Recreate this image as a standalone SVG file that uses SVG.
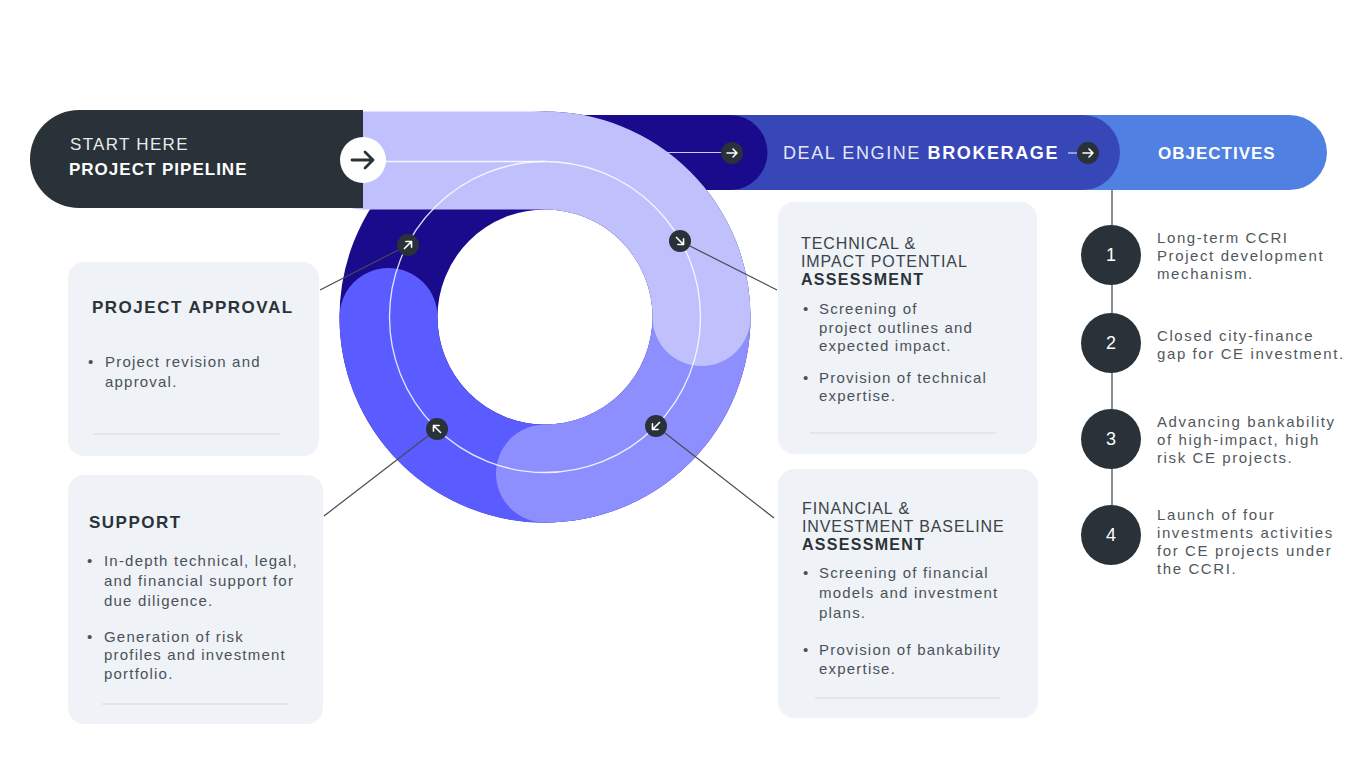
<svg xmlns="http://www.w3.org/2000/svg" xmlns:xlink="http://www.w3.org/1999/xlink" width="1355" height="769" viewBox="0 0 1355 769">
<style>
  .box { fill: #EFF2F7; }
  .div { stroke: #D5DAE1; stroke-width: 1; }
  .title { font-family: "Liberation Sans", Arial, sans-serif; font-weight: bold; font-size: 17px; letter-spacing: 1.5px; fill: #2A3338; }
  .hd { font-family: "Liberation Sans", Arial, sans-serif; font-size: 16px; letter-spacing: 0.9px; fill: #3A4348; }
  .hdb { font-weight: bold; letter-spacing: 1.3px; fill: #2A3338; }
  .body { font-family: "Liberation Sans", Arial, sans-serif; font-size: 15px; letter-spacing: 1.2px; fill: #4A5257; }
  .obj { letter-spacing: 1.6px; fill: #50585D; }
  .conn { stroke: #454B50; stroke-width: 1.2; fill: none; }
  .dot { fill: #283238; }
  .arr { stroke: #FFFFFF; stroke-width: 1.6; fill: none; stroke-linecap: round; stroke-linejoin: round; }
  .num { font-family: "Liberation Sans", Arial, sans-serif; font-size: 18px; fill: #FFFFFF; text-anchor: middle; }
</style>
<defs>
  <path id="arrow" d="M -5 0 H 5 M 1 -4 L 5 0 L 1 4"/>
</defs>
<rect width="1355" height="769" fill="#FFFFFF"/>

<!-- top bars -->
<g id="objectives-bar">
  <path d="M 1050 115 H 1289.5 A 37.5 37.5 0 0 1 1289.5 190 H 1050 Z" fill="#4F80E2"/>
  <text x="1158" y="159" font-family="Liberation Sans, Arial, sans-serif" font-weight="bold" font-size="17" letter-spacing="1" fill="#FFFFFF">OBJECTIVES</text>
</g>
<g id="deal-engine">
  <path d="M 700 115 H 1082.5 A 37.5 37.5 0 0 1 1082.5 190 H 700 Z" fill="#3847B8"/>
  <path d="M 545 152.5 H 730" stroke="#1A0A8C" stroke-width="75" stroke-linecap="round" fill="none"/>
  <text x="783" y="159" font-family="Liberation Sans, Arial, sans-serif" font-size="18" letter-spacing="1.6" fill="#E4E6F7">DEAL ENGINE <tspan font-weight="bold" fill="#FFFFFF">BROKERAGE</tspan></text>
</g>

<!-- ring -->
<g id="ring">
  <circle cx="545" cy="317" r="156.5" fill="none" stroke="#1A0A8C" stroke-width="98"/>
  <path d="M 388.5 317 A 156.5 156.5 0 0 0 655.7 427.7" fill="none" stroke="#5A5CFF" stroke-width="98" stroke-linecap="round"/>
  <path d="M 545 473.5 A 156.5 156.5 0 0 0 701.5 317" fill="none" stroke="#8E8FFF" stroke-width="98" stroke-linecap="round"/>
  <line x1="600" y1="152.5" x2="732" y2="152.5" stroke="#C9C9F5" stroke-width="1.2"/>
  <path d="M 363 160.5 H 545 A 156.5 156.5 0 0 1 701.5 317" fill="none" stroke="#C0C0FD" stroke-width="98" stroke-linecap="round"/>
</g>

<g id="start">
  <path d="M 363 110 H 79 A 49 49 0 0 0 79 208 H 363 Z" fill="#283238"/>
  <text x="70" y="150" font-family="Liberation Sans, Arial, sans-serif" font-size="17" letter-spacing="1.3" fill="#E8EAEC">START HERE</text>
  <text x="69" y="175" font-family="Liberation Sans, Arial, sans-serif" font-weight="bold" font-size="17" letter-spacing="1" fill="#FFFFFF">PROJECT PIPELINE</text>
</g>

<!-- connectors -->
<g id="connectors">
  <circle cx="545" cy="317" r="155.5" fill="none" stroke="#FFFFFF" stroke-width="1.3" opacity="0.85"/>
  <line x1="363" y1="161.5" x2="545" y2="161.5" stroke="#FFFFFF" stroke-width="1.3" opacity="0.85"/>
  <line x1="1068" y1="153" x2="1080" y2="153" stroke="#C9CCEF" stroke-width="1.3"/>
  <line class="conn" x1="320" y1="290" x2="408" y2="245"/>
  <line class="conn" x1="324" y1="516" x2="437" y2="429"/>
  <line class="conn" x1="680" y1="241" x2="777" y2="290"/>
  <line class="conn" x1="656" y1="426" x2="774" y2="518"/>
  <line x1="1112" y1="190" x2="1112" y2="535" stroke="#8A8F94" stroke-width="2"/>
  <circle cx="363" cy="160" r="23" fill="#FFFFFF"/>
  <path d="M 352 160 H 373 M 365 152 L 373 160 L 365 168" stroke="#283238" stroke-width="2.8" fill="none" stroke-linecap="round" stroke-linejoin="round"/>
  <circle class="dot" cx="732" cy="153" r="11"/>
  <use href="#arrow" class="arr" transform="translate(732 153)"/>
  <circle class="dot" cx="1088" cy="153" r="11"/>
  <use href="#arrow" class="arr" transform="translate(1088 153)"/>
  <circle class="dot" cx="408" cy="245" r="11"/>
  <use href="#arrow" class="arr" transform="translate(408 245) rotate(-45)"/>
  <circle class="dot" cx="680" cy="241" r="11"/>
  <use href="#arrow" class="arr" transform="translate(680 241) rotate(45)"/>
  <circle class="dot" cx="656" cy="426" r="11"/>
  <use href="#arrow" class="arr" transform="translate(656 426) rotate(135)"/>
  <circle class="dot" cx="437" cy="429" r="11"/>
  <use href="#arrow" class="arr" transform="translate(437 429) rotate(-135)"/>
</g>

<!-- boxes -->
<g id="project-approval">
  <rect class="box" x="68" y="262" width="251" height="194" rx="16"/>
  <text class="title" x="92" y="313">PROJECT APPROVAL</text>
  <text class="body" x="88" y="367">•</text>
  <text class="body" x="105" y="367">Project revision and</text>
  <text class="body" x="105" y="387">approval.</text>
  <line class="div" x1="93" y1="434" x2="280" y2="434"/>
</g>

<g id="support">
  <rect class="box" x="68" y="475" width="255" height="249" rx="16"/>
  <text class="title" x="89" y="528">SUPPORT</text>
  <text class="body" x="87" y="566">•</text>
  <text class="body" x="104" y="566">In-depth technical, legal,</text>
  <text class="body" x="104" y="586">and financial support for</text>
  <text class="body" x="104" y="606">due diligence.</text>
  <text class="body" x="87" y="642">•</text>
  <text class="body" x="104" y="642">Generation of risk</text>
  <text class="body" x="104" y="660">profiles and investment</text>
  <text class="body" x="104" y="679">portfolio.</text>
  <line class="div" x1="102" y1="704" x2="288" y2="704"/>
</g>

<g id="technical">
  <rect class="box" x="778" y="202" width="259" height="252" rx="16"/>
  <text class="hd" x="801" y="249">TECHNICAL &amp;</text>
  <text class="hd" x="801" y="267">IMPACT POTENTIAL</text>
  <text class="hd hdb" x="801" y="285">ASSESSMENT</text>
  <text class="body" x="803" y="314">•</text>
  <text class="body" x="819" y="314">Screening of</text>
  <text class="body" x="819" y="333">project outlines and</text>
  <text class="body" x="819" y="351">expected impact.</text>
  <text class="body" x="803" y="383">•</text>
  <text class="body" x="819" y="383">Provision of technical</text>
  <text class="body" x="819" y="401">expertise.</text>
  <line class="div" x1="810" y1="433" x2="996" y2="433"/>
</g>

<g id="financial">
  <rect class="box" x="778" y="469" width="260" height="249" rx="16"/>
  <text class="hd" x="802" y="514">FINANCIAL &amp;</text>
  <text class="hd" x="802" y="532">INVESTMENT BASELINE</text>
  <text class="hd hdb" x="802" y="550">ASSESSMENT</text>
  <text class="body" x="803" y="578">•</text>
  <text class="body" x="819" y="578">Screening of financial</text>
  <text class="body" x="819" y="598">models and investment</text>
  <text class="body" x="819" y="618">plans.</text>
  <text class="body" x="803" y="655">•</text>
  <text class="body" x="819" y="655">Provision of bankability</text>
  <text class="body" x="819" y="674">expertise.</text>
  <line class="div" x1="815" y1="698" x2="1000" y2="698"/>
</g>

<!-- objectives -->
<g id="objective-1">
  <circle class="dot" cx="1111" cy="255" r="30"/>
  <text class="num" x="1111" y="261">1</text>
  <text class="body obj" x="1157" y="243">Long-term CCRI</text>
  <text class="body obj" x="1157" y="261">Project development</text>
  <text class="body obj" x="1157" y="279">mechanism.</text>
</g>
<g id="objective-2">
  <circle class="dot" cx="1111" cy="343" r="30"/>
  <text class="num" x="1111" y="349">2</text>
  <text class="body obj" x="1157" y="341">Closed city-finance</text>
  <text class="body obj" x="1157" y="359">gap for CE investment.</text>
</g>
<g id="objective-3">
  <circle class="dot" cx="1111" cy="439" r="30"/>
  <text class="num" x="1111" y="445">3</text>
  <text class="body obj" x="1157" y="427">Advancing bankability</text>
  <text class="body obj" x="1157" y="445">of high-impact, high</text>
  <text class="body obj" x="1157" y="463">risk CE projects.</text>
</g>
<g id="objective-4">
  <circle class="dot" cx="1111" cy="535" r="30"/>
  <text class="num" x="1111" y="541">4</text>
  <text class="body obj" x="1157" y="520">Launch of four</text>
  <text class="body obj" x="1157" y="538">investments activities</text>
  <text class="body obj" x="1157" y="556">for CE projects under</text>
  <text class="body obj" x="1157" y="574">the CCRI.</text>
</g>
</svg>
